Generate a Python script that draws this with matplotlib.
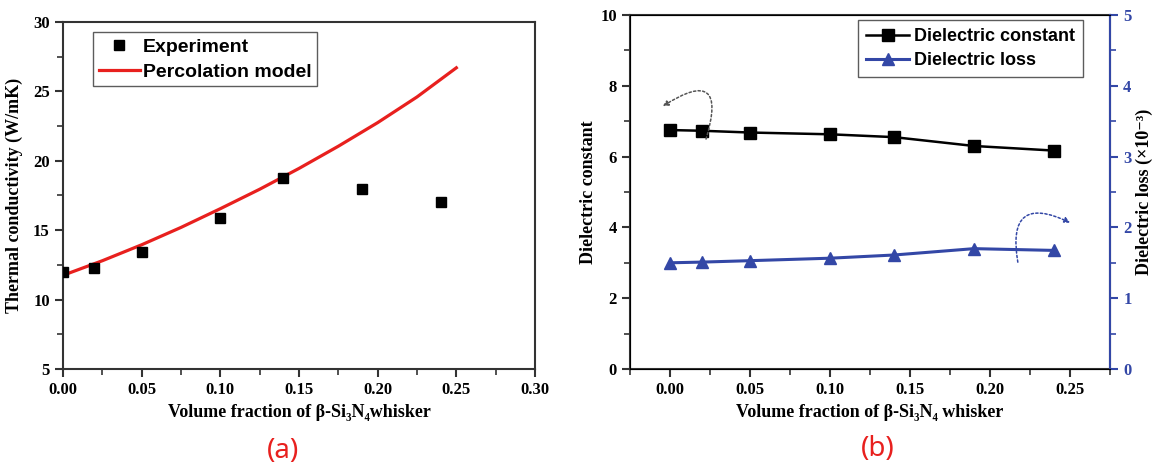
import matplotlib
matplotlib.use("Agg")
import matplotlib.pyplot as plt
from matplotlib.ticker import MultipleLocator, FormatStrFormatter

# ---- data ----
vf = [0.00, 0.02, 0.05, 0.10, 0.14, 0.19, 0.24]
tc_exp = [12.0, 12.25, 13.45, 15.85, 18.75, 18.0, 17.0]
model_x = [0.00, 0.025, 0.05, 0.075, 0.10, 0.125, 0.15, 0.175, 0.20, 0.225, 0.25]
model_y = [11.75, 12.8, 13.95, 15.2, 16.55, 17.95, 19.45, 21.05, 22.75, 24.6, 26.7]
diel_const = [6.75, 6.73, 6.68, 6.63, 6.55, 6.30, 6.17]
diel_loss = [1.50, 1.51, 1.53, 1.565, 1.61, 1.70, 1.675]

serif = ["Liberation Serif", "DejaVu Serif"]
sans = ["Liberation Sans", "DejaVu Sans"]
BLUE = "#3347a6"
RED = "#e8201e"
SPINE = "#333333"

fig = plt.figure(figsize=(11.59, 4.69), dpi=100)
W, H = 1159, 469

def axrect(x0, y0, x1, y1):
    return [x0 / W, 1 - y1 / H, (x1 - x0) / W, (y1 - y0) / H]

TICKFS = 12
LABFS = 13

def style_axis(ax):
    ax.tick_params(which="major", direction="out", length=6, width=1.5, color=SPINE)
    ax.tick_params(which="minor", direction="out", length=4, width=1.2, color=SPINE)
    for s in ax.spines.values():
        s.set_linewidth(1.5)
        s.set_color(SPINE)
    for lab in ax.get_xticklabels() + ax.get_yticklabels():
        lab.set_fontfamily(serif)
        lab.set_fontweight("bold")
        lab.set_fontsize(TICKFS)

# ---- panel (a) ----
axa = fig.add_axes(axrect(63, 22, 535, 369))
axa.plot(model_x, model_y, color=RED, lw=2.3, label="Percolation model", zorder=2)
axa.plot(vf, tc_exp, "s", color="black", ms=7.5, label="Experiment", zorder=3)
axa.set_xlim(0, 0.30)
axa.set_ylim(5, 30)
axa.xaxis.set_major_locator(MultipleLocator(0.05))
axa.xaxis.set_minor_locator(MultipleLocator(0.025))
axa.yaxis.set_major_locator(MultipleLocator(5))
axa.yaxis.set_minor_locator(MultipleLocator(2.5))
axa.xaxis.set_major_formatter(FormatStrFormatter("%.2f"))
style_axis(axa)
axa.set_xlabel("Volume fraction of β-Si₃N₄whisker", fontfamily=serif, fontweight="bold",
               fontsize=LABFS, labelpad=4)
axa.set_ylabel("Thermal conductivity (W/mK)", fontfamily=serif, fontweight="bold",
               fontsize=LABFS, labelpad=7)
handles, labels = axa.get_legend_handles_labels()
leg = axa.legend(handles[::-1], labels[::-1], loc="upper left", bbox_to_anchor=(0.0636, 0.971),
                 borderaxespad=0,
                 prop={"family": sans, "weight": "bold", "size": 14},
                 frameon=True, fancybox=False, edgecolor="#333333", handlelength=2.1,
                 borderpad=0.3, labelspacing=0.38, handletextpad=0.15)
leg.get_frame().set_linewidth(1.0)

# ---- panel (b) ----
axb = fig.add_axes(axrect(630, 15, 1110, 369))
l1, = axb.plot(vf, diel_const, "-s", color="black", ms=8, lw=1.8, label="Dielectric constant")
axb.set_xlim(-0.025, 0.275)
axb.set_ylim(0, 10)
axb.xaxis.set_major_locator(MultipleLocator(0.05))
axb.xaxis.set_minor_locator(MultipleLocator(0.025))
axb.yaxis.set_major_locator(MultipleLocator(2))
axb.yaxis.set_minor_locator(MultipleLocator(1))
axb.xaxis.set_major_formatter(FormatStrFormatter("%.2f"))
axb.yaxis.set_major_formatter(FormatStrFormatter("%d"))
style_axis(axb)
axb.set_xlabel("Volume fraction of β-Si₃N₄ whisker", fontfamily=serif, fontweight="bold",
               fontsize=LABFS, labelpad=4)
axb.set_ylabel("Dielectric constant", fontfamily=serif, fontweight="bold", fontsize=LABFS,
               labelpad=2)

axr = axb.twinx()
l2, = axr.plot(vf, diel_loss, "-^", color=BLUE, ms=9, lw=2.2, label="Dielectric loss")
axr.set_ylim(0, 5)
axr.yaxis.set_major_locator(MultipleLocator(1))
axr.yaxis.set_minor_locator(MultipleLocator(0.5))
axr.yaxis.set_major_formatter(FormatStrFormatter("%d"))
axr.tick_params(which="major", direction="out", length=6, width=1.5, colors=BLUE)
axr.tick_params(which="minor", direction="out", length=4, width=1.2, colors=BLUE)
axr.spines["right"].set_color(BLUE)
axr.spines["right"].set_linewidth(1.5)
for lab in axr.get_yticklabels():
    lab.set_fontfamily(serif)
    lab.set_fontweight("bold")
    lab.set_fontsize(TICKFS)
axr.set_ylabel("Dielectric loss (×10⁻³)", fontfamily=serif, fontweight="bold", fontsize=LABFS,
               labelpad=3, color="black")

legb = axb.legend([l1, l2], ["Dielectric constant", "Dielectric loss"], loc="upper left",
                  bbox_to_anchor=(0.475, 0.986), borderaxespad=0,
                  prop={"family": sans, "weight": "bold", "size": 13},
                  frameon=True, fancybox=False, edgecolor="#333333", handlelength=2.4,
                  borderpad=0.45, labelspacing=0.4, handletextpad=0.25)
legb.get_frame().set_linewidth(1.0)

# dotted curved arrows
axb.annotate("", xy=(-0.006, 7.38), xytext=(0.022, 6.42),
             arrowprops=dict(arrowstyle="-|>", linestyle=(0, (1.5, 1.5)), color="#555555",
                             lw=1.1, connectionstyle="arc3,rad=1.4", mutation_scale=8))
axr.annotate("", xy=(0.2516, 2.05), xytext=(0.2177, 1.47),
             arrowprops=dict(arrowstyle="-|>", linestyle=(0, (1.5, 1.5)), color=BLUE,
                             lw=1.1, connectionstyle="arc3,rad=-1.0", mutation_scale=8))

# panel labels
fig.text(283 / W, 1 - 451 / H, "(a)", color=RED, fontsize=20, ha="center", va="center",
         fontfamily=["Noto Sans", "DejaVu Sans"])
fig.text(878 / W, 1 - 449 / H, "(b)", color=RED, fontsize=20, ha="center", va="center",
         fontfamily=["Noto Sans", "DejaVu Sans"])

fig.savefig("out.png", dpi=100)
